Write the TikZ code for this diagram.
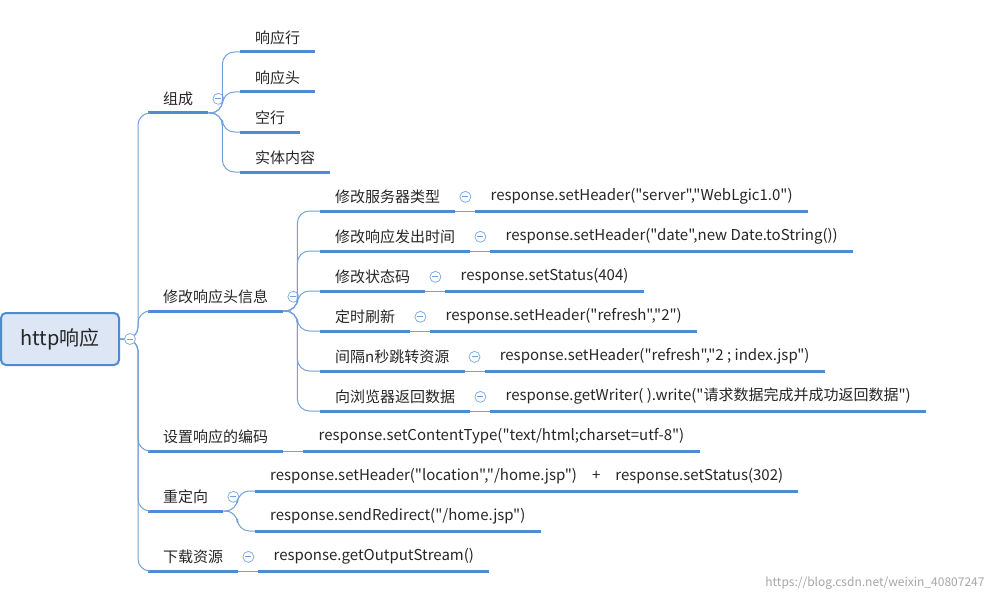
\documentclass[tikz,border=0pt]{standalone}
\usepackage{fontspec}
\setmainfont{Noto Sans CJK SC}[Ligatures=TeXOff]
\usetikzlibrary{positioning}
\definecolor{mapblue}{RGB}{79,139,210}
\definecolor{rootfill}{RGB}{220,230,244}
\tikzset{
  topic/.style={anchor=south west, inner xsep=15pt, inner ysep=7pt,
    font=\fontsize{15}{17}\selectfont, text=black!85},
  uline/.style={draw=mapblue, line width=3pt},
  link/.style={draw=mapblue!80, line width=1pt, rounded corners=12pt},
  fold/.style={circle, draw=mapblue!70, fill=white, inner sep=0pt,
    minimum size=11pt, line width=0.8pt,
    path picture={\draw[mapblue!80, line width=0.8pt]
      ([xshift=-3pt]path picture bounding box.center) -- ([xshift=3pt]path picture bounding box.center);}}
}
\begin{document}
\begin{tikzpicture}[x=1pt,y=-1pt]
\useasboundingbox (0,0) rectangle (997,602);

% root
\node[rectangle, rounded corners=5pt, draw=mapblue, line width=2pt, fill=rootfill,
  minimum width=118pt, minimum height=52pt, font=\fontsize{20}{22}\selectfont,
  text=black!85] (root) at (60,339) {http响应};

% level 1
\node[topic] (zc) at (148,113) {组成};
\node[topic] (xg) at (148,311) {修改响应头信息};
\node[topic] (bm) at (148,451) {设置响应的编码};
\node[topic] (cd) at (148,511) {重定向};
\node[topic] (xz) at (148,571) {下载资源};
\foreach \n in {zc,xg,bm,cd,xz}{
  \draw[uline] (\n.south west) -- (\n.south east);
  \draw[link] (root.east) -- ++(18,0) |- (\n.south west);
}
\node[fold] (froot) at (130,339) {};
\node[fold] (fzc) at ([xshift=10pt]zc.east) {};
\node[fold] (fxg) at ([xshift=10pt]xg.east) {};
\node[fold] (fcd) at ([xshift=10pt]cd.east) {};
\node[fold] (fxz) at ([xshift=10pt]xz.east) {};

% 组成
\node[topic] (zc1) at (240,52) {响应行};
\node[topic] (zc2) at (240,92) {响应头};
\node[topic] (zc3) at (240,132) {空行};
\node[topic] (zc4) at (240,172) {实体内容};
\foreach \n in {zc1,zc2,zc3,zc4}{
  \draw[uline] (\n.south west) -- (\n.south east);
  \draw[link] (zc.south east) -- ++(14,0) |- (\n.south west);
}

% 修改响应头信息
\node[topic] (h1) at (320,211) {修改服务器类型};
\node[topic] (h2) at (320,251) {修改响应发出时间};
\node[topic] (h3) at (320,291) {修改状态码};
\node[topic] (h4) at (320,331) {定时刷新};
\node[topic] (h5) at (320,371) {间隔n秒跳转资源};
\node[topic] (h6) at (320,411) {向浏览器返回数据};
\foreach \n in {h1,h2,h3,h4,h5,h6}{
  \draw[uline] (\n.south west) -- (\n.south east);
  \draw[link] (xg.south east) -- ++(14,0) |- (\n.south west);
  \node[fold] (f\n) at ([xshift=10pt]\n.east) {};
}
\node[topic] (v1) at ([xshift=20pt]h1.south east) {response.setHeader("server","WebLgic1.0")};
\node[topic] (v2) at ([xshift=20pt]h2.south east) {response.setHeader("date",new Date.toString())};
\node[topic] (v3) at ([xshift=20pt]h3.south east) {response.setStatus(404)};
\node[topic] (v4) at ([xshift=20pt]h4.south east) {response.setHeader("refresh","2")};
\node[topic] (v5) at ([xshift=20pt]h5.south east) {response.setHeader("refresh","2 ; index.jsp")};
\node[topic] (v6) at ([xshift=20pt]h6.south east) {response.getWriter( ).write("请求数据完成并成功返回数据")};
\foreach \i in {1,...,6}{
  \draw[uline] (v\i.south west) -- (v\i.south east);
  \draw[link] (h\i.south east) -- (v\i.south west);
}

% 设置响应的编码
\node[topic] (bm1) at ([xshift=20pt]bm.south east) {response.setContentType("text/html;charset=utf-8")};
\draw[uline] (bm1.south west) -- (bm1.south east);
\draw[link] (bm.south east) -- (bm1.south west);

% 重定向
\node[topic] (cd1) at (255,491) {response.setHeader("location","/home.jsp")\quad +\quad response.setStatus(302)};
\node[topic] (cd2) at (255,531) {response.sendRedirect("/home.jsp")};
\foreach \n in {cd1,cd2}{
  \draw[uline] (\n.south west) -- (\n.south east);
  \draw[link] (cd.south east) -- ++(14,0) |- (\n.south west);
}

% 下载资源
\node[topic] (xz1) at ([xshift=20pt]xz.south east) {response.getOutputStream()};
\draw[uline] (xz1.south west) -- (xz1.south east);
\draw[link] (xz.south east) -- (xz1.south west);

\node[anchor=east, text=black!35, font=\fontsize{12}{14}\selectfont] (wm) at (988,583) {https://blog.csdn.net/weixin\_40807247};
\end{tikzpicture}
\end{document}
